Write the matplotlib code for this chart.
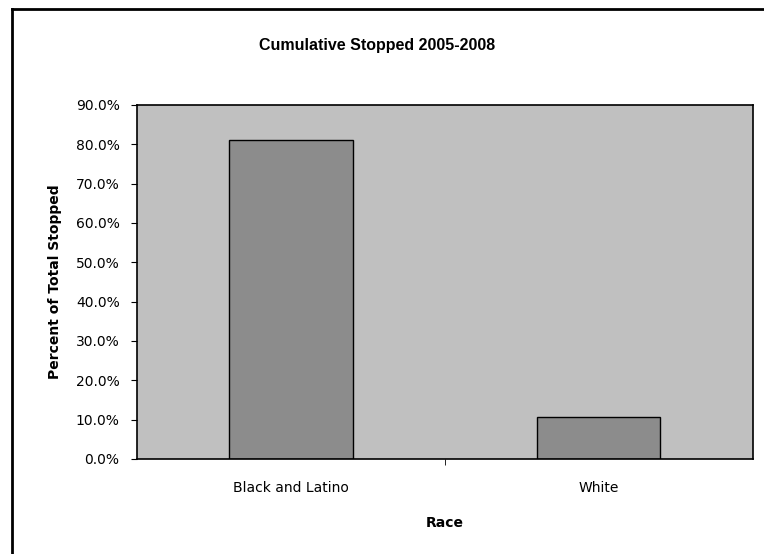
import matplotlib.pyplot as plt
from matplotlib.lines import Line2D
from matplotlib.ticker import FuncFormatter

plt.rcParams['font.family'] = ['DejaVu Sans']

races = ['Black and Latino', 'White']
pct_stopped = [81.1, 10.7]
y_ticks = [0, 10, 20, 30, 40, 50, 60, 70, 80, 90]

fig = plt.figure(figsize=(7.64, 5.54), dpi=100)
ax = fig.add_axes([0.1793, 0.1715, 0.806, 0.639])

ax.set_facecolor('#c0c0c0')
xs = range(len(races))
ax.bar(xs, pct_stopped, width=0.40, color='#8c8c8c', edgecolor='black', linewidth=1.0)

ax.set_xlim(-0.5, len(races) - 0.5)
ax.set_ylim(0, 90)
ax.set_yticks(y_ticks)
ax.yaxis.set_major_formatter(FuncFormatter(lambda v, p: '%.1f%%' % v))
ax.set_xticks(list(xs))
ax.set_xticklabels(races)
ax.tick_params(axis='x', length=0, pad=16, labelsize=10)
ax.tick_params(axis='y', length=4.5, direction='out', labelsize=10, pad=8)
ax.set_xticks([0.5], minor=True)
ax.tick_params(axis='x', which='minor', length=4, direction='out')

for s in ax.spines.values():
    s.set_linewidth(1.2)

ax.set_ylabel('Percent of Total Stopped', fontsize=10, fontweight='bold', labelpad=10)
ax.set_xlabel('Race', fontsize=10, fontweight='bold', labelpad=15)
fig.text(0.493, 0.918, 'Cumulative Stopped 2005-2008', ha='center', va='center',
         fontsize=11.5, fontweight='bold', family='Liberation Sans')

# outer chart border (left and top edges)
fig.add_artist(Line2D([0.016, 0.016], [0.0, 0.984], color='black', lw=2))
fig.add_artist(Line2D([0.016, 1.0], [0.984, 0.984], color='black', lw=2))

fig.savefig('out.png', dpi=100)
